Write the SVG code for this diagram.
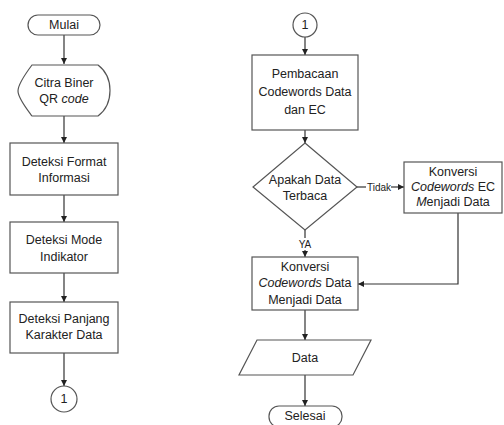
<svg xmlns="http://www.w3.org/2000/svg" width="504" height="425" viewBox="0 0 504 425">
  <style>
    .shape { fill: #ffffff; stroke: #555555; stroke-width: 1.2; }
    .line { fill: none; stroke: #333333; stroke-width: 1.2; }
    text { font-family: "Liberation Sans", Arial, sans-serif; font-size: 12.5px; fill: #222222; text-anchor: middle; dominant-baseline: central; }
    .small { font-size: 10px; }
    .it { font-style: italic; }
  </style>
  <defs>
    <marker id="arrow" viewBox="0 0 8 8" refX="8" refY="4" markerWidth="6" markerHeight="6" orient="auto" markerUnits="userSpaceOnUse">
      <path d="M0,0 L8,4 L0,8 z" fill="#222222"/>
    </marker>
  </defs>

  <!-- connectors -->
  <g id="connectors">
    <line class="line" x1="64" y1="35" x2="64" y2="64" marker-end="url(#arrow)"/>
    <line class="line" x1="64" y1="116" x2="64" y2="143" marker-end="url(#arrow)"/>
    <line class="line" x1="64" y1="195" x2="64" y2="222" marker-end="url(#arrow)"/>
    <line class="line" x1="64" y1="273" x2="64" y2="302" marker-end="url(#arrow)"/>
    <line class="line" x1="64" y1="353" x2="64" y2="386" marker-end="url(#arrow)"/>
    <line class="line" x1="305" y1="37" x2="305" y2="55" marker-end="url(#arrow)"/>
    <line class="line" x1="305" y1="130" x2="305" y2="143" marker-end="url(#arrow)"/>
    <line class="line" x1="357" y1="187" x2="366" y2="187"/>
    <line class="line" x1="391" y1="187" x2="404" y2="187" marker-end="url(#arrow)"/>
    <line class="line" x1="305" y1="230" x2="305" y2="238"/>
    <line class="line" x1="305" y1="250" x2="305" y2="257" marker-end="url(#arrow)"/>
    <polyline class="line" points="458,213 458,284 358,284" marker-end="url(#arrow)"/>
    <line class="line" x1="305" y1="310" x2="305" y2="340" marker-end="url(#arrow)"/>
    <line class="line" x1="305" y1="375" x2="305" y2="406" marker-end="url(#arrow)"/>
    <text class="small" x="379" y="187">Tidak</text>
    <text class="small" x="305" y="244">YA</text>
  </g>

  <!-- left column -->
  <g id="mulai">
    <rect class="shape" x="28" y="15" width="72" height="20" rx="10"/>
    <text x="64" y="25">Mulai</text>
  </g>
  <g id="citra">
    <path class="shape" d="M32,65 L98,65 C114,77 114,104 98,116 L32,116 C26,108 18,98 18,91 C18,84 26,73 32,65 z"/>
    <text x="64" y="83">Citra Biner</text>
    <text x="64" y="99">QR <tspan class="it">code</tspan></text>
  </g>
  <g id="format">
    <rect class="shape" x="10" y="143" width="108" height="52"/>
    <text x="64" y="162">Deteksi Format</text>
    <text x="64" y="178">Informasi</text>
  </g>
  <g id="mode">
    <rect class="shape" x="10" y="222" width="108" height="51"/>
    <text x="64" y="240">Deteksi Mode</text>
    <text x="64" y="257">Indikator</text>
  </g>
  <g id="panjang">
    <rect class="shape" x="10" y="302" width="108" height="51"/>
    <text x="64" y="319">Deteksi Panjang</text>
    <text x="64" y="335">Karakter Data</text>
  </g>
  <g id="conn-out">
    <circle class="shape" cx="64" cy="399" r="13"/>
    <text x="64" y="399">1</text>
  </g>

  <!-- right column -->
  <g id="conn-in">
    <circle class="shape" cx="305" cy="25" r="12"/>
    <text x="305" y="25">1</text>
  </g>
  <g id="pembacaan">
    <rect class="shape" x="252" y="55" width="106" height="75"/>
    <text x="305" y="74">Pembacaan</text>
    <text x="305" y="92">Codewords Data</text>
    <text x="305" y="110">dan EC</text>
  </g>
  <g id="decision">
    <polygon class="shape" points="305,143 357,187 305,230 253,187"/>
    <text x="305" y="180">Apakah Data</text>
    <text x="305" y="196">Terbaca</text>
  </g>
  <g id="konversi-ec">
    <rect class="shape" x="404" y="162" width="98" height="51"/>
    <text x="453" y="172">Konversi</text>
    <text x="453" y="187"><tspan class="it">Codewords</tspan> EC</text>
    <text x="453" y="202"><tspan class="it">M</tspan>enjadi Data</text>
  </g>
  <g id="konversi-data">
    <rect class="shape" x="252" y="257" width="106" height="53"/>
    <text x="305" y="267">Konversi</text>
    <text x="305" y="283"><tspan class="it">Codewords</tspan> Data</text>
    <text x="305" y="300">Menjadi Data</text>
  </g>
  <g id="data">
    <polygon class="shape" points="257,340 371,340 353,375 239,375"/>
    <text x="305" y="358">Data</text>
  </g>
  <g id="selesai">
    <rect class="shape" x="269" y="406" width="73" height="21" rx="10"/>
    <text x="305" y="416">Selesai</text>
  </g>
</svg>
